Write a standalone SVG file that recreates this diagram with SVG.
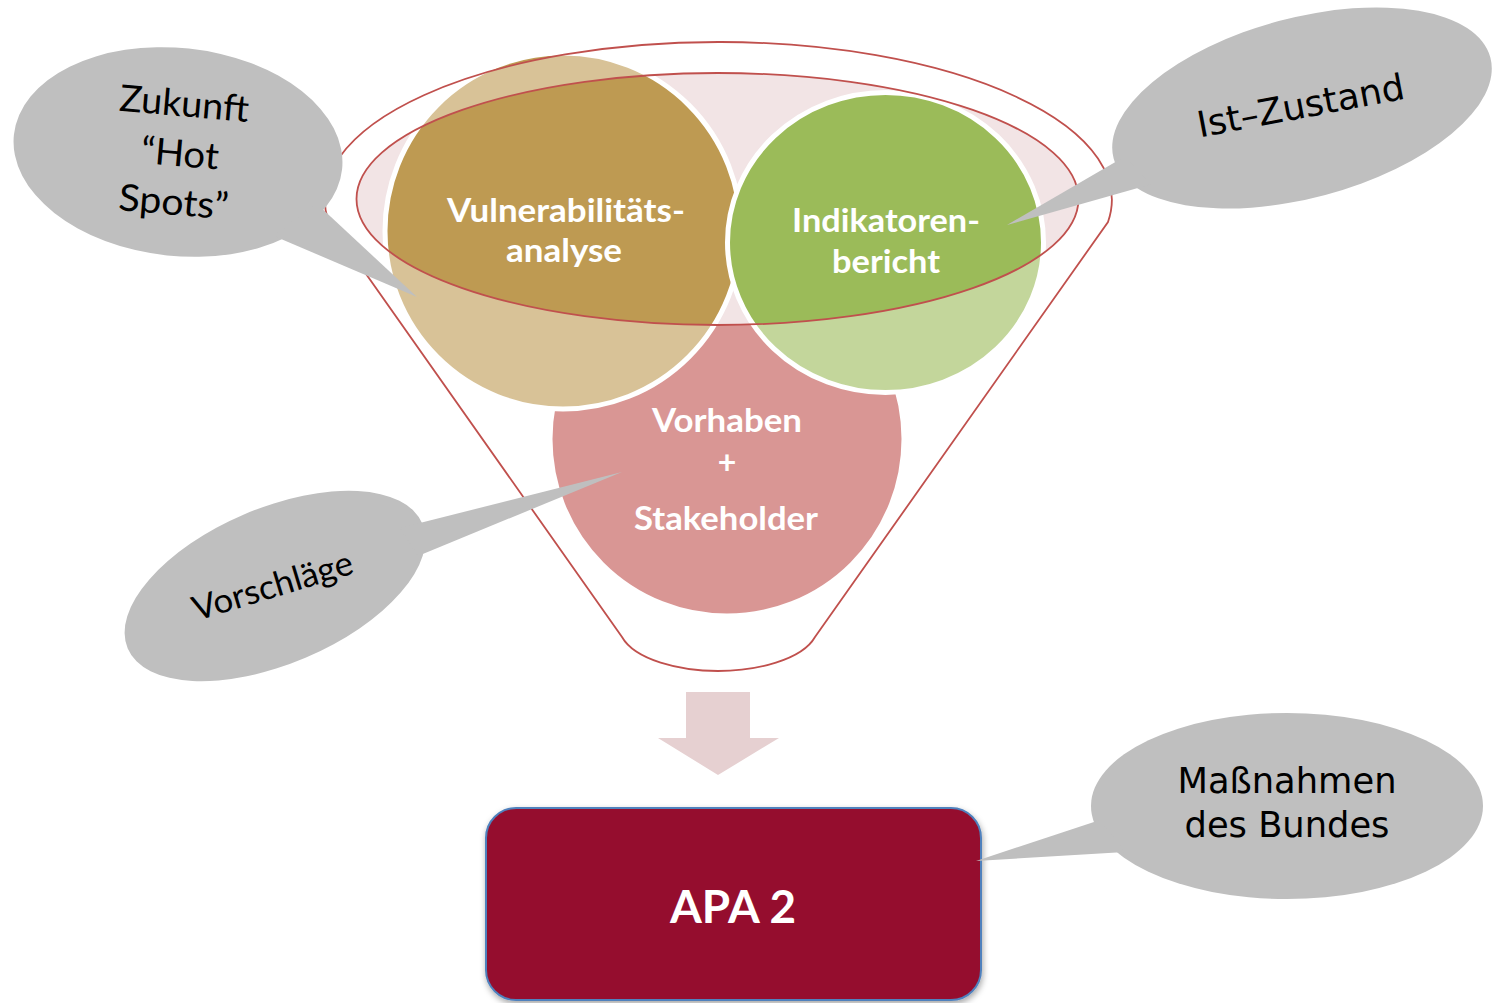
<svg xmlns="http://www.w3.org/2000/svg" width="1493" height="1003" viewBox="0 0 1493 1003">
<style>
.bubble{fill:#bfbfbf;stroke:none}
.ctext{font-family:Lato,"Liberation Sans",sans-serif;fill:#000}
.ltext{font-family:"DejaVu Sans","Liberation Sans",sans-serif;fill:#000}
.wlabel{font-family:Lato,"Liberation Sans",sans-serif;font-weight:bold;fill:#fff;text-anchor:middle}
.circ{stroke:#fff;stroke-width:5}
.redline{fill:none;stroke:#c0504d;stroke-width:1.8}
</style>
<defs>
<filter id="shadow" x="-10%" y="-10%" width="120%" height="130%">
<feDropShadow dx="1" dy="3" stdDeviation="3" flood-color="#000" flood-opacity="0.35"/>
</filter>
</defs>
<rect width="1493" height="1003" fill="#fff"/>

<g id="funnel">
<circle id="vorhaben-circle" class="circ" cx="727" cy="439" r="177" fill="#c0504d"/>
<ellipse cx="717.5" cy="199" rx="361" ry="126" fill="#f2e4e5"/>
</g>

<g id="node-vulnerabilitaet">
<circle class="circ" cx="563" cy="231" r="178" fill="#be9a52"/>
</g>
<g id="node-indikatoren">
<ellipse class="circ" cx="885.5" cy="242.5" rx="158" ry="150" fill="#9bbb59"/>
</g>

<g id="funnel-body">
<path d="M328,220 A393.5,158 0 1 1 1108,222 L815,637 C802,660 756,671 718,671 C680,671 635,660 622,637 Z M356.5,199 A361,126 0 1 0 1078.5,199 A361,126 0 1 0 356.5,199 Z" fill="#fff" fill-opacity="0.4" fill-rule="evenodd"/>
<path class="redline" d="M328,220 A393.5,158 0 1 1 1108,222 L815,637 C802,660 756,671 718,671 C680,671 635,660 622,637 Z"/>
<ellipse class="redline" cx="717.5" cy="199" rx="361" ry="126"/>
</g>

<g id="labels">
<text class="wlabel" font-size="32" x="566" y="222" textLength="238" lengthAdjust="spacingAndGlyphs">Vulnerabilitäts-</text>
<text class="wlabel" font-size="32" x="564" y="262" textLength="116" lengthAdjust="spacingAndGlyphs">analyse</text>
<text class="wlabel" font-size="32" x="886" y="232" textLength="188" lengthAdjust="spacingAndGlyphs">Indikatoren-</text>
<text class="wlabel" font-size="32" x="886" y="273" textLength="108" lengthAdjust="spacingAndGlyphs">bericht</text>
<text class="wlabel" font-size="32" x="727" y="432" textLength="150" lengthAdjust="spacingAndGlyphs">Vorhaben</text>
<text class="wlabel" font-size="32" x="727" y="474">+</text>
<text class="wlabel" font-size="32" x="726" y="530" textLength="184" lengthAdjust="spacingAndGlyphs">Stakeholder</text>
</g>

<g id="connectors">
<path d="M686,692 L750,692 L750,738 L779,738 L718,775 L658,738 L686,738 Z" fill="#e6d0d1"/>
</g>

<g id="node-apa2">
<rect x="486" y="808" width="495" height="192" rx="30" ry="30" fill="#95102f" stroke="#4f81bd" stroke-width="2" filter="url(#shadow)"/>
<text class="wlabel" font-size="46" x="733" y="923" textLength="126" lengthAdjust="spacingAndGlyphs">APA 2</text>
</g>

<g id="callout-zukunft">
<ellipse class="bubble" cx="178" cy="152" rx="165" ry="104" transform="rotate(6 178 152)"/>
<polygon class="bubble" points="316,203 417,297 274,236"/>
<g transform="rotate(5 178 152)">
<text class="ctext" font-size="37" text-anchor="middle" x="180" y="116" textLength="130" lengthAdjust="spacingAndGlyphs">Zukunft</text>
<text class="ctext" font-size="37" text-anchor="middle" x="180" y="166" textLength="78" lengthAdjust="spacingAndGlyphs">“Hot</text>
<text class="ctext" font-size="37" text-anchor="middle" x="178" y="215" textLength="110" lengthAdjust="spacingAndGlyphs">Spots”</text>
</g>
</g>

<g id="callout-istzustand">
<ellipse class="bubble" cx="1302" cy="108" rx="195" ry="90" transform="rotate(-15 1302 108)"/>
<polygon class="bubble" points="1124,157 1007,225 1152,184"/>
<text class="ltext" font-size="36" text-anchor="middle" x="1303" y="118" transform="rotate(-10.7 1303 118)" textLength="210" lengthAdjust="spacingAndGlyphs">Ist–Zustand</text>
</g>

<g id="callout-vorschlaege">
<ellipse class="bubble" cx="275" cy="586" rx="160" ry="78" transform="rotate(-23 275 586)"/>
<polygon class="bubble" points="400,528 622,472 418,556"/>
<text class="ctext" font-size="34" text-anchor="middle" x="276" y="597" transform="rotate(-16.8 276 597)" textLength="166" lengthAdjust="spacingAndGlyphs">Vorschläge</text>
</g>

<g id="callout-massnahmen">
<ellipse class="bubble" cx="1287" cy="806" rx="196" ry="93"/>
<polygon class="bubble" points="1100,820 976,861 1125,852"/>
<text class="ltext" font-size="35" text-anchor="middle" x="1287" y="793" textLength="219" lengthAdjust="spacingAndGlyphs">Maßnahmen</text>
<text class="ltext" font-size="35" text-anchor="middle" x="1287" y="837" textLength="205" lengthAdjust="spacingAndGlyphs">des Bundes</text>
</g>
</svg>
